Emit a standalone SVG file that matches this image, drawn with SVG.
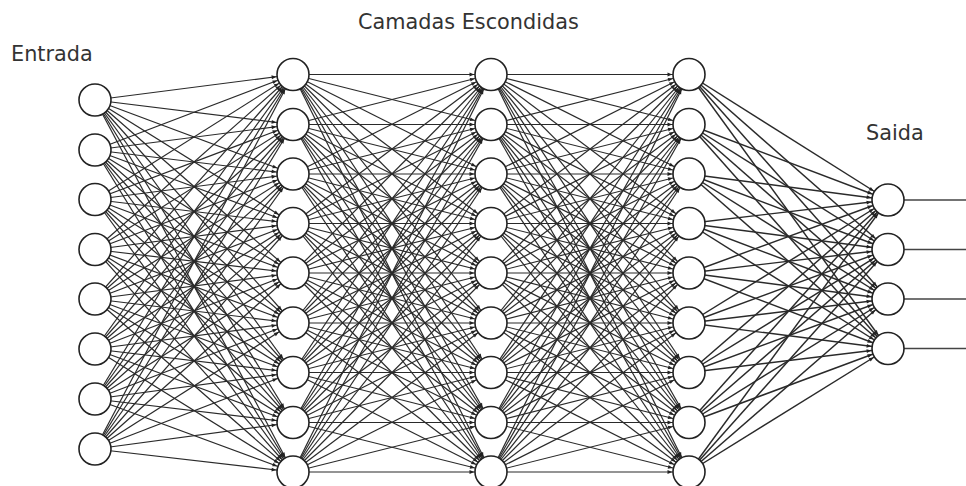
<svg xmlns="http://www.w3.org/2000/svg" xmlns:xlink="http://www.w3.org/1999/xlink" width="966" height="486" viewBox="0 0 966 486">
  <style>
    .lbl { font-family: "DejaVu Sans", "Liberation Sans", sans-serif; font-size: 20.8px; fill: #333; }
    .edge line { stroke: #2a2a2a; stroke-width: 1.2; marker-end: url(#arrow); }
    .edge.heavy line { stroke-width: 1.45; }
    .neuron { fill: #fff; stroke: #222; stroke-width: 1.6; }
    .out { stroke: #444; stroke-width: 1.3; }
  </style>
  <defs>
    <!-- arrow tip sits on the target circle's outline (r = 16) -->
    <marker id="arrow" markerUnits="userSpaceOnUse" orient="auto" refX="0" refY="0" markerWidth="1" markerHeight="1" overflow="visible">
      <path d="M-16.8,0 L-21.5,-1.9 L-21.5,1.9 Z" fill="#222"/>
    </marker>
    <!-- dense links between two hidden layers (9 x 9) -->
    <g id="hfan" class="edge">
      <line x1="293" y1="74.5" x2="491" y2="74.5"/><line x1="293" y1="74.5" x2="491" y2="124.5"/><line x1="293" y1="74.5" x2="491" y2="174"/><line x1="293" y1="74.5" x2="491" y2="223.5"/><line x1="293" y1="74.5" x2="491" y2="273"/><line x1="293" y1="74.5" x2="491" y2="323"/><line x1="293" y1="74.5" x2="491" y2="372.5"/><line x1="293" y1="74.5" x2="491" y2="422.5"/><line x1="293" y1="74.5" x2="491" y2="472"/>
      <line x1="293" y1="124.5" x2="491" y2="74.5"/><line x1="293" y1="124.5" x2="491" y2="124.5"/><line x1="293" y1="124.5" x2="491" y2="174"/><line x1="293" y1="124.5" x2="491" y2="223.5"/><line x1="293" y1="124.5" x2="491" y2="273"/><line x1="293" y1="124.5" x2="491" y2="323"/><line x1="293" y1="124.5" x2="491" y2="372.5"/><line x1="293" y1="124.5" x2="491" y2="422.5"/><line x1="293" y1="124.5" x2="491" y2="472"/>
      <line x1="293" y1="174" x2="491" y2="74.5"/><line x1="293" y1="174" x2="491" y2="124.5"/><line x1="293" y1="174" x2="491" y2="174"/><line x1="293" y1="174" x2="491" y2="223.5"/><line x1="293" y1="174" x2="491" y2="273"/><line x1="293" y1="174" x2="491" y2="323"/><line x1="293" y1="174" x2="491" y2="372.5"/><line x1="293" y1="174" x2="491" y2="422.5"/><line x1="293" y1="174" x2="491" y2="472"/>
      <line x1="293" y1="223.5" x2="491" y2="74.5"/><line x1="293" y1="223.5" x2="491" y2="124.5"/><line x1="293" y1="223.5" x2="491" y2="174"/><line x1="293" y1="223.5" x2="491" y2="223.5"/><line x1="293" y1="223.5" x2="491" y2="273"/><line x1="293" y1="223.5" x2="491" y2="323"/><line x1="293" y1="223.5" x2="491" y2="372.5"/><line x1="293" y1="223.5" x2="491" y2="422.5"/><line x1="293" y1="223.5" x2="491" y2="472"/>
      <line x1="293" y1="273" x2="491" y2="74.5"/><line x1="293" y1="273" x2="491" y2="124.5"/><line x1="293" y1="273" x2="491" y2="174"/><line x1="293" y1="273" x2="491" y2="223.5"/><line x1="293" y1="273" x2="491" y2="273"/><line x1="293" y1="273" x2="491" y2="323"/><line x1="293" y1="273" x2="491" y2="372.5"/><line x1="293" y1="273" x2="491" y2="422.5"/><line x1="293" y1="273" x2="491" y2="472"/>
      <line x1="293" y1="323" x2="491" y2="74.5"/><line x1="293" y1="323" x2="491" y2="124.5"/><line x1="293" y1="323" x2="491" y2="174"/><line x1="293" y1="323" x2="491" y2="223.5"/><line x1="293" y1="323" x2="491" y2="273"/><line x1="293" y1="323" x2="491" y2="323"/><line x1="293" y1="323" x2="491" y2="372.5"/><line x1="293" y1="323" x2="491" y2="422.5"/><line x1="293" y1="323" x2="491" y2="472"/>
      <line x1="293" y1="372.5" x2="491" y2="74.5"/><line x1="293" y1="372.5" x2="491" y2="124.5"/><line x1="293" y1="372.5" x2="491" y2="174"/><line x1="293" y1="372.5" x2="491" y2="223.5"/><line x1="293" y1="372.5" x2="491" y2="273"/><line x1="293" y1="372.5" x2="491" y2="323"/><line x1="293" y1="372.5" x2="491" y2="372.5"/><line x1="293" y1="372.5" x2="491" y2="422.5"/><line x1="293" y1="372.5" x2="491" y2="472"/>
      <line x1="293" y1="422.5" x2="491" y2="74.5"/><line x1="293" y1="422.5" x2="491" y2="124.5"/><line x1="293" y1="422.5" x2="491" y2="174"/><line x1="293" y1="422.5" x2="491" y2="223.5"/><line x1="293" y1="422.5" x2="491" y2="273"/><line x1="293" y1="422.5" x2="491" y2="323"/><line x1="293" y1="422.5" x2="491" y2="372.5"/><line x1="293" y1="422.5" x2="491" y2="422.5"/><line x1="293" y1="422.5" x2="491" y2="472"/>
      <line x1="293" y1="472" x2="491" y2="74.5"/><line x1="293" y1="472" x2="491" y2="124.5"/><line x1="293" y1="472" x2="491" y2="174"/><line x1="293" y1="472" x2="491" y2="223.5"/><line x1="293" y1="472" x2="491" y2="273"/><line x1="293" y1="472" x2="491" y2="323"/><line x1="293" y1="472" x2="491" y2="372.5"/><line x1="293" y1="472" x2="491" y2="422.5"/><line x1="293" y1="472" x2="491" y2="472"/>
    </g>
    <circle id="n" r="16" class="neuron"/>
  </defs>

  <rect width="966" height="486" fill="#fff"/>

  <!-- layer titles -->
  <text class="lbl" x="11" y="61">Entrada</text>
  <text class="lbl" x="358" y="29">Camadas Escondidas</text>
  <text class="lbl" x="866" y="140">Saida</text>

  <g id="connectors">
    <!-- input -> hidden 1 -->
    <g class="edge">
      <line x1="95" y1="100" x2="293" y2="74.5"/><line x1="95" y1="100" x2="293" y2="124.5"/><line x1="95" y1="100" x2="293" y2="174"/><line x1="95" y1="100" x2="293" y2="223.5"/><line x1="95" y1="100" x2="293" y2="273"/><line x1="95" y1="100" x2="293" y2="323"/><line x1="95" y1="100" x2="293" y2="372.5"/><line x1="95" y1="100" x2="293" y2="422.5"/><line x1="95" y1="100" x2="293" y2="472"/>
      <line x1="95" y1="150" x2="293" y2="74.5"/><line x1="95" y1="150" x2="293" y2="124.5"/><line x1="95" y1="150" x2="293" y2="174"/><line x1="95" y1="150" x2="293" y2="223.5"/><line x1="95" y1="150" x2="293" y2="273"/><line x1="95" y1="150" x2="293" y2="323"/><line x1="95" y1="150" x2="293" y2="372.5"/><line x1="95" y1="150" x2="293" y2="422.5"/><line x1="95" y1="150" x2="293" y2="472"/>
      <line x1="95" y1="199.5" x2="293" y2="74.5"/><line x1="95" y1="199.5" x2="293" y2="124.5"/><line x1="95" y1="199.5" x2="293" y2="174"/><line x1="95" y1="199.5" x2="293" y2="223.5"/><line x1="95" y1="199.5" x2="293" y2="273"/><line x1="95" y1="199.5" x2="293" y2="323"/><line x1="95" y1="199.5" x2="293" y2="372.5"/><line x1="95" y1="199.5" x2="293" y2="422.5"/><line x1="95" y1="199.5" x2="293" y2="472"/>
      <line x1="95" y1="249.5" x2="293" y2="74.5"/><line x1="95" y1="249.5" x2="293" y2="124.5"/><line x1="95" y1="249.5" x2="293" y2="174"/><line x1="95" y1="249.5" x2="293" y2="223.5"/><line x1="95" y1="249.5" x2="293" y2="273"/><line x1="95" y1="249.5" x2="293" y2="323"/><line x1="95" y1="249.5" x2="293" y2="372.5"/><line x1="95" y1="249.5" x2="293" y2="422.5"/><line x1="95" y1="249.5" x2="293" y2="472"/>
      <line x1="95" y1="299" x2="293" y2="74.5"/><line x1="95" y1="299" x2="293" y2="124.5"/><line x1="95" y1="299" x2="293" y2="174"/><line x1="95" y1="299" x2="293" y2="223.5"/><line x1="95" y1="299" x2="293" y2="273"/><line x1="95" y1="299" x2="293" y2="323"/><line x1="95" y1="299" x2="293" y2="372.5"/><line x1="95" y1="299" x2="293" y2="422.5"/><line x1="95" y1="299" x2="293" y2="472"/>
      <line x1="95" y1="349" x2="293" y2="74.5"/><line x1="95" y1="349" x2="293" y2="124.5"/><line x1="95" y1="349" x2="293" y2="174"/><line x1="95" y1="349" x2="293" y2="223.5"/><line x1="95" y1="349" x2="293" y2="273"/><line x1="95" y1="349" x2="293" y2="323"/><line x1="95" y1="349" x2="293" y2="372.5"/><line x1="95" y1="349" x2="293" y2="422.5"/><line x1="95" y1="349" x2="293" y2="472"/>
      <line x1="95" y1="399" x2="293" y2="74.5"/><line x1="95" y1="399" x2="293" y2="124.5"/><line x1="95" y1="399" x2="293" y2="174"/><line x1="95" y1="399" x2="293" y2="223.5"/><line x1="95" y1="399" x2="293" y2="273"/><line x1="95" y1="399" x2="293" y2="323"/><line x1="95" y1="399" x2="293" y2="372.5"/><line x1="95" y1="399" x2="293" y2="422.5"/><line x1="95" y1="399" x2="293" y2="472"/>
      <line x1="95" y1="449" x2="293" y2="74.5"/><line x1="95" y1="449" x2="293" y2="124.5"/><line x1="95" y1="449" x2="293" y2="174"/><line x1="95" y1="449" x2="293" y2="223.5"/><line x1="95" y1="449" x2="293" y2="273"/><line x1="95" y1="449" x2="293" y2="323"/><line x1="95" y1="449" x2="293" y2="372.5"/><line x1="95" y1="449" x2="293" y2="422.5"/><line x1="95" y1="449" x2="293" y2="472"/>
    </g>
    <!-- hidden 1 -> hidden 2, hidden 2 -> hidden 3 -->
    <use xlink:href="#hfan" href="#hfan"/>
    <use xlink:href="#hfan" href="#hfan" x="198"/>
    <!-- hidden 3 -> output -->
    <g class="edge heavy">
      <line x1="689" y1="74.5" x2="888" y2="200"/><line x1="689" y1="74.5" x2="888" y2="249.5"/><line x1="689" y1="74.5" x2="888" y2="299"/><line x1="689" y1="74.5" x2="888" y2="348.5"/>
      <line x1="689" y1="124.5" x2="888" y2="200"/><line x1="689" y1="124.5" x2="888" y2="249.5"/><line x1="689" y1="124.5" x2="888" y2="299"/><line x1="689" y1="124.5" x2="888" y2="348.5"/>
      <line x1="689" y1="174" x2="888" y2="200"/><line x1="689" y1="174" x2="888" y2="249.5"/><line x1="689" y1="174" x2="888" y2="299"/><line x1="689" y1="174" x2="888" y2="348.5"/>
      <line x1="689" y1="223.5" x2="888" y2="200"/><line x1="689" y1="223.5" x2="888" y2="249.5"/><line x1="689" y1="223.5" x2="888" y2="299"/><line x1="689" y1="223.5" x2="888" y2="348.5"/>
      <line x1="689" y1="273" x2="888" y2="200"/><line x1="689" y1="273" x2="888" y2="249.5"/><line x1="689" y1="273" x2="888" y2="299"/><line x1="689" y1="273" x2="888" y2="348.5"/>
      <line x1="689" y1="323" x2="888" y2="200"/><line x1="689" y1="323" x2="888" y2="249.5"/><line x1="689" y1="323" x2="888" y2="299"/><line x1="689" y1="323" x2="888" y2="348.5"/>
      <line x1="689" y1="372.5" x2="888" y2="200"/><line x1="689" y1="372.5" x2="888" y2="249.5"/><line x1="689" y1="372.5" x2="888" y2="299"/><line x1="689" y1="372.5" x2="888" y2="348.5"/>
      <line x1="689" y1="422.5" x2="888" y2="200"/><line x1="689" y1="422.5" x2="888" y2="249.5"/><line x1="689" y1="422.5" x2="888" y2="299"/><line x1="689" y1="422.5" x2="888" y2="348.5"/>
      <line x1="689" y1="472" x2="888" y2="200"/><line x1="689" y1="472" x2="888" y2="249.5"/><line x1="689" y1="472" x2="888" y2="299"/><line x1="689" y1="472" x2="888" y2="348.5"/>
    </g>
    <!-- output leads -->
    <g class="out">
      <line x1="888" y1="200" x2="966" y2="200"/>
      <line x1="888" y1="249.5" x2="966" y2="249.5"/>
      <line x1="888" y1="299" x2="966" y2="299"/>
      <line x1="888" y1="348.5" x2="966" y2="348.5"/>
    </g>
  </g>

  <!-- input layer -->
  <g id="in1"><use href="#n" xlink:href="#n" x="95" y="100"/></g>
  <g id="in2"><use href="#n" xlink:href="#n" x="95" y="150"/></g>
  <g id="in3"><use href="#n" xlink:href="#n" x="95" y="199.5"/></g>
  <g id="in4"><use href="#n" xlink:href="#n" x="95" y="249.5"/></g>
  <g id="in5"><use href="#n" xlink:href="#n" x="95" y="299"/></g>
  <g id="in6"><use href="#n" xlink:href="#n" x="95" y="349"/></g>
  <g id="in7"><use href="#n" xlink:href="#n" x="95" y="399"/></g>
  <g id="in8"><use href="#n" xlink:href="#n" x="95" y="449"/></g>

  <!-- hidden layer 1 -->
  <g id="h1n1"><use href="#n" xlink:href="#n" x="293" y="74.5"/></g>
  <g id="h1n2"><use href="#n" xlink:href="#n" x="293" y="124.5"/></g>
  <g id="h1n3"><use href="#n" xlink:href="#n" x="293" y="174"/></g>
  <g id="h1n4"><use href="#n" xlink:href="#n" x="293" y="223.5"/></g>
  <g id="h1n5"><use href="#n" xlink:href="#n" x="293" y="273"/></g>
  <g id="h1n6"><use href="#n" xlink:href="#n" x="293" y="323"/></g>
  <g id="h1n7"><use href="#n" xlink:href="#n" x="293" y="372.5"/></g>
  <g id="h1n8"><use href="#n" xlink:href="#n" x="293" y="422.5"/></g>
  <g id="h1n9"><use href="#n" xlink:href="#n" x="293" y="472"/></g>

  <!-- hidden layer 2 -->
  <g id="h2n1"><use href="#n" xlink:href="#n" x="491" y="74.5"/></g>
  <g id="h2n2"><use href="#n" xlink:href="#n" x="491" y="124.5"/></g>
  <g id="h2n3"><use href="#n" xlink:href="#n" x="491" y="174"/></g>
  <g id="h2n4"><use href="#n" xlink:href="#n" x="491" y="223.5"/></g>
  <g id="h2n5"><use href="#n" xlink:href="#n" x="491" y="273"/></g>
  <g id="h2n6"><use href="#n" xlink:href="#n" x="491" y="323"/></g>
  <g id="h2n7"><use href="#n" xlink:href="#n" x="491" y="372.5"/></g>
  <g id="h2n8"><use href="#n" xlink:href="#n" x="491" y="422.5"/></g>
  <g id="h2n9"><use href="#n" xlink:href="#n" x="491" y="472"/></g>

  <!-- hidden layer 3 -->
  <g id="h3n1"><use href="#n" xlink:href="#n" x="689" y="74.5"/></g>
  <g id="h3n2"><use href="#n" xlink:href="#n" x="689" y="124.5"/></g>
  <g id="h3n3"><use href="#n" xlink:href="#n" x="689" y="174"/></g>
  <g id="h3n4"><use href="#n" xlink:href="#n" x="689" y="223.5"/></g>
  <g id="h3n5"><use href="#n" xlink:href="#n" x="689" y="273"/></g>
  <g id="h3n6"><use href="#n" xlink:href="#n" x="689" y="323"/></g>
  <g id="h3n7"><use href="#n" xlink:href="#n" x="689" y="372.5"/></g>
  <g id="h3n8"><use href="#n" xlink:href="#n" x="689" y="422.5"/></g>
  <g id="h3n9"><use href="#n" xlink:href="#n" x="689" y="472"/></g>

  <!-- output layer -->
  <g id="out1"><use href="#n" xlink:href="#n" x="888" y="200"/></g>
  <g id="out2"><use href="#n" xlink:href="#n" x="888" y="249.5"/></g>
  <g id="out3"><use href="#n" xlink:href="#n" x="888" y="299"/></g>
  <g id="out4"><use href="#n" xlink:href="#n" x="888" y="348.5"/></g>
</svg>
